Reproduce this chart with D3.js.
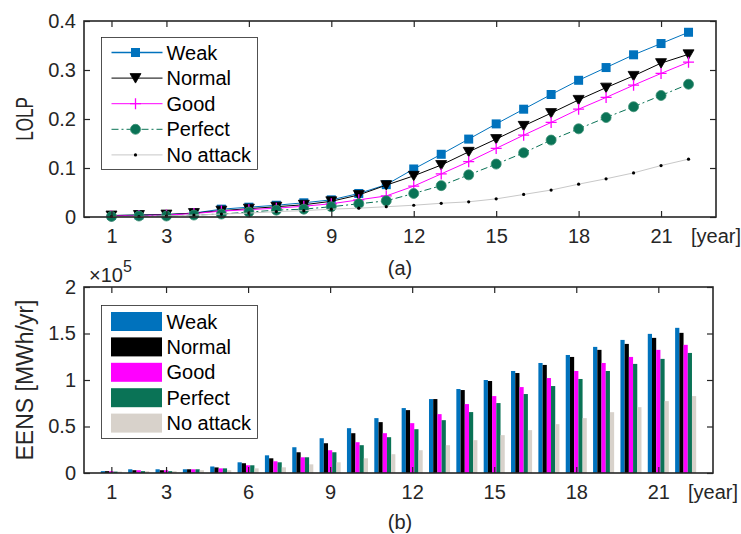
<!DOCTYPE html>
<html>
<head>
<meta charset="utf-8">
<script src="https://cdn.jsdelivr.net/npm/d3@7"></script>
<style>
  body { margin: 0; background: #fff; }
  svg { display: block; font-family: "Liberation Sans", Arial, sans-serif; }
</style>
</head>
<body>
<svg width="741" height="534"></svg>
<script>
// data
var years = [1, 2, 3, 4, 5, 6, 7, 8, 9, 10, 11, 12, 13, 14, 15, 16, 17, 18, 19, 20, 21, 22];
var seriesNames = ["Weak", "Normal", "Good", "Perfect", "No attack"];
var xTickValues = [1, 3, 6, 9, 12, 15, 18, 21];

// (a) LOLP
var lolpWeak    = [0.003, 0.004, 0.005, 0.008, 0.016, 0.020, 0.024, 0.029, 0.035, 0.048, 0.066, 0.098, 0.128, 0.159, 0.190, 0.220, 0.250, 0.279, 0.305, 0.331, 0.354, 0.377];
var lolpNormal  = [0.003, 0.004, 0.005, 0.008, 0.013, 0.017, 0.021, 0.025, 0.032, 0.045, 0.065, 0.084, 0.106, 0.133, 0.159, 0.186, 0.212, 0.239, 0.264, 0.288, 0.314, 0.332];
var lolpGood    = [0.002, 0.003, 0.004, 0.007, 0.012, 0.015, 0.018, 0.022, 0.027, 0.035, 0.043, 0.063, 0.088, 0.113, 0.140, 0.167, 0.193, 0.220, 0.244, 0.269, 0.293, 0.316];
var lolpPerfect = [0.001, 0.002, 0.002, 0.004, 0.006, 0.010, 0.014, 0.016, 0.021, 0.027, 0.033, 0.048, 0.064, 0.086, 0.108, 0.131, 0.157, 0.180, 0.203, 0.225, 0.248, 0.271];
var lolpNoAtt   = [0.001, 0.001, 0.002, 0.004, 0.006, 0.008, 0.011, 0.013, 0.016, 0.018, 0.021, 0.024, 0.028, 0.031, 0.037, 0.046, 0.055, 0.067, 0.078, 0.090, 0.105, 0.118];

// (b) EENS, in 1e5 MWh/yr
var eensWeak    = [0.02, 0.04, 0.04, 0.04, 0.07, 0.115, 0.19, 0.277, 0.374, 0.482, 0.590, 0.698, 0.795, 0.903, 1.000, 1.097, 1.183, 1.269, 1.356, 1.431, 1.496, 1.561];
var eensNormal  = [0.02, 0.03, 0.03, 0.04, 0.06, 0.105, 0.158, 0.223, 0.320, 0.428, 0.547, 0.676, 0.795, 0.892, 0.989, 1.075, 1.162, 1.248, 1.324, 1.388, 1.453, 1.507];
var eensGood    = [0.02, 0.03, 0.03, 0.04, 0.05, 0.083, 0.126, 0.169, 0.245, 0.331, 0.428, 0.536, 0.633, 0.741, 0.827, 0.924, 1.021, 1.097, 1.183, 1.248, 1.324, 1.378];
var eensPerfect = [0.015, 0.02, 0.02, 0.04, 0.05, 0.083, 0.115, 0.169, 0.223, 0.299, 0.385, 0.471, 0.568, 0.655, 0.752, 0.849, 0.935, 1.011, 1.097, 1.173, 1.227, 1.291];
var eensNoAtt   = [0.015, 0.02, 0.02, 0.03, 0.03, 0.05, 0.061, 0.093, 0.115, 0.158, 0.202, 0.245, 0.299, 0.353, 0.407, 0.461, 0.525, 0.590, 0.654, 0.708, 0.773, 0.827];

var colors = ["#0072bd", "#000000", "#ff00ff", "#0a7356", "#d8d2cb"];
var axisColor = "#262626";
var fontSize = 20;

var svg = d3.select("svg");

function drawFrame(g, x, y, w, h, yTicks, yFormat) {
  // inward ticks on all four sides, MATLAB style
  var tl = 6;
  g.append("g").attr("transform", "translate(0," + h + ")")
    .call(d3.axisBottom(x).tickValues(xTickValues).tickSizeInner(-tl).tickSizeOuter(0).tickPadding(12).tickFormat(d3.format("d")));
  g.append("g")
    .call(d3.axisTop(x).tickValues(xTickValues).tickSizeInner(-tl).tickSizeOuter(0).tickFormat(""));
  g.append("g")
    .call(d3.axisLeft(y).tickValues(yTicks).tickSizeInner(-tl).tickSizeOuter(0).tickPadding(8).tickFormat(yFormat));
  g.append("g").attr("transform", "translate(" + w + ",0)")
    .call(d3.axisRight(y).tickValues(yTicks).tickSizeInner(-tl).tickSizeOuter(0).tickFormat(""));
  g.selectAll(".domain").remove();
  g.selectAll(".tick line").attr("stroke", axisColor).attr("stroke-width", 1.2);
  g.selectAll(".tick text").attr("fill", axisColor).style("font-size", fontSize + "px");
  g.append("rect").attr("width", w).attr("height", h)
    .attr("fill", "none").attr("stroke", axisColor).attr("stroke-width", 1.6);
  g.append("text").attr("x", w).attr("y", h + 12).attr("dy", "0.71em")
    .attr("text-anchor", "middle").attr("fill", axisColor)
    .style("font-size", fontSize + "px").text("[year]");
}

// ---------- (a) LOLP ----------
var mA = {left: 84, top: 21}, wA = 632, hA = 196;
var gA = svg.append("g").attr("transform", "translate(" + mA.left + "," + mA.top + ")");
var xA = d3.scaleLinear().domain([0, 23]).range([0, wA]);
var yA = d3.scaleLinear().domain([0, 0.4]).range([hA, 0]);

var lolp = [lolpWeak, lolpNormal, lolpGood, lolpPerfect, lolpNoAtt];
var lineStyles = [
  {stroke: colors[0], width: 1, dash: null},
  {stroke: "#000", width: 1, dash: null},
  {stroke: "#ff00ff", width: 1, dash: null},
  {stroke: colors[3], width: 1, dash: "7,3,2,3"},
  {stroke: "#c8c8c8", width: 1, dash: null}
];

var line = d3.line().x(function(d, i) { return xA(years[i]); }).y(function(d) { return yA(d); });

function marker(sel, k) {
  if (k === 0) {
    sel.append("rect").attr("x", -4.5).attr("y", -4.5).attr("width", 9).attr("height", 9).attr("fill", colors[0]);
  } else if (k === 1) {
    sel.append("path").attr("d", "M-5.5,-4.5L5.5,-4.5L0,5z").attr("fill", "#000").attr("stroke", "#000").attr("stroke-width", 0.8);
  } else if (k === 2) {
    sel.append("path").attr("d", "M-5.5,0H5.5M0,-5.5V5.5").attr("stroke", "#ff00ff").attr("stroke-width", 1.3);
  } else if (k === 3) {
    sel.append("circle").attr("r", 5).attr("fill", colors[3]).attr("stroke", "#3a8f72").attr("stroke-width", 0.8);
  } else {
    sel.append("circle").attr("r", 1.6).attr("fill", "#000");
  }
}

// plot order like MATLAB: later series on top
lolp.forEach(function(vals, k) {
  var s = lineStyles[k];
  gA.append("path").datum(vals).attr("d", line)
    .attr("fill", "none").attr("stroke", s.stroke).attr("stroke-width", s.width)
    .attr("stroke-dasharray", s.dash);
  gA.selectAll(".m" + k).data(vals).enter().append("g")
    .attr("class", "m" + k)
    .attr("transform", function(d, i) { return "translate(" + xA(years[i]) + "," + yA(d) + ")"; })
    .each(function() { marker(d3.select(this), k); });
});

drawFrame(gA, xA, yA, wA, hA, [0, 0.1, 0.2, 0.3, 0.4], function(d) { return d === 0 ? "0" : d3.format(".1f")(d); });

svg.append("text").attr("transform", "translate(33," + (mA.top + hA / 2) + ") rotate(-90) scale(0.74,1)")
  .attr("text-anchor", "middle").attr("fill", axisColor).style("font-size", "23px").text("LOLP");
svg.append("text").attr("x", 400).attr("y", 275).attr("text-anchor", "middle")
  .attr("fill", axisColor).style("font-size", fontSize + "px").text("(a)");

// legend (a)
var legA = gA.append("g").attr("transform", "translate(" + (101.5 - mA.left) + "," + (37.5 - mA.top) + ")");
legA.append("rect").attr("width", 156).attr("height", 132).attr("fill", "#fff").attr("stroke", axisColor).attr("stroke-width", 0.8);
seriesNames.forEach(function(name, k) {
  var yy = 15 + k * 25.6;
  var s = lineStyles[k];
  legA.append("line").attr("x1", 10).attr("x2", 61).attr("y1", yy).attr("y2", yy)
    .attr("stroke", s.stroke).attr("stroke-width", k === 0 ? 1.6 : 1).attr("stroke-dasharray", s.dash);
  marker(legA.append("g").attr("transform", "translate(34," + yy + ")"), k);
  legA.append("text").attr("x", 65).attr("y", yy).attr("dy", "0.35em")
    .attr("fill", "#000").style("font-size", fontSize + "px").text(name);
});

// ---------- (b) EENS ----------
var mB = {left: 84, top: 287}, wB = 629, hB = 186;
var gB = svg.append("g").attr("transform", "translate(" + mB.left + "," + mB.top + ")");
var xB = d3.scaleLinear().domain([0, 23]).range([0, wB]);
var yB = d3.scaleLinear().domain([0, 2]).range([hB, 0]);
var groupW = xB(0.77) - xB(0);
var xSub = d3.scaleBand().domain(seriesNames).range([-groupW / 2, groupW / 2]);

var eens = [eensWeak, eensNormal, eensGood, eensPerfect, eensNoAtt];
eens.forEach(function(vals, k) {
  gB.selectAll(".b" + k).data(vals).enter().append("rect")
    .attr("class", "b" + k)
    .attr("x", function(d, i) { return xB(years[i]) + xSub(seriesNames[k]); })
    .attr("width", xSub.bandwidth())
    .attr("y", function(d) { return yB(d); })
    .attr("height", function(d) { return hB - yB(d); })
    .attr("fill", colors[k]);
});

drawFrame(gB, xB, yB, wB, hB, [0, 0.5, 1, 1.5, 2], function(d) { return String(d); });

var expo = svg.append("text").attr("x", 89).attr("y", 282).attr("fill", axisColor).style("font-size", fontSize + "px");
expo.append("tspan").text("\u00d710");
expo.append("tspan").attr("dy", -10).style("font-size", "16px").text("5");

svg.append("text").attr("transform", "translate(33," + (mB.top + hB / 2) + ") rotate(-90)")
  .attr("text-anchor", "middle").attr("fill", axisColor).style("font-size", "23px").text("EENS [MWh/yr]");
svg.append("text").attr("x", 400).attr("y", 529).attr("text-anchor", "middle")
  .attr("fill", axisColor).style("font-size", fontSize + "px").text("(b)");

// legend (b)
var legB = gB.append("g").attr("transform", "translate(" + (101.5 - mB.left) + "," + (305.5 - mB.top) + ")");
legB.append("rect").attr("width", 156).attr("height", 133).attr("fill", "#fff").attr("stroke", axisColor).attr("stroke-width", 0.8);
seriesNames.forEach(function(name, k) {
  var yy = 16 + k * 25.4;
  legB.append("rect").attr("x", 9.5).attr("y", yy - 9.5).attr("width", 51).attr("height", 19).attr("fill", colors[k]);
  legB.append("text").attr("x", 65).attr("y", yy).attr("dy", "0.35em")
    .attr("fill", "#000").style("font-size", fontSize + "px").text(name);
});
</script>
</body>
</html>
